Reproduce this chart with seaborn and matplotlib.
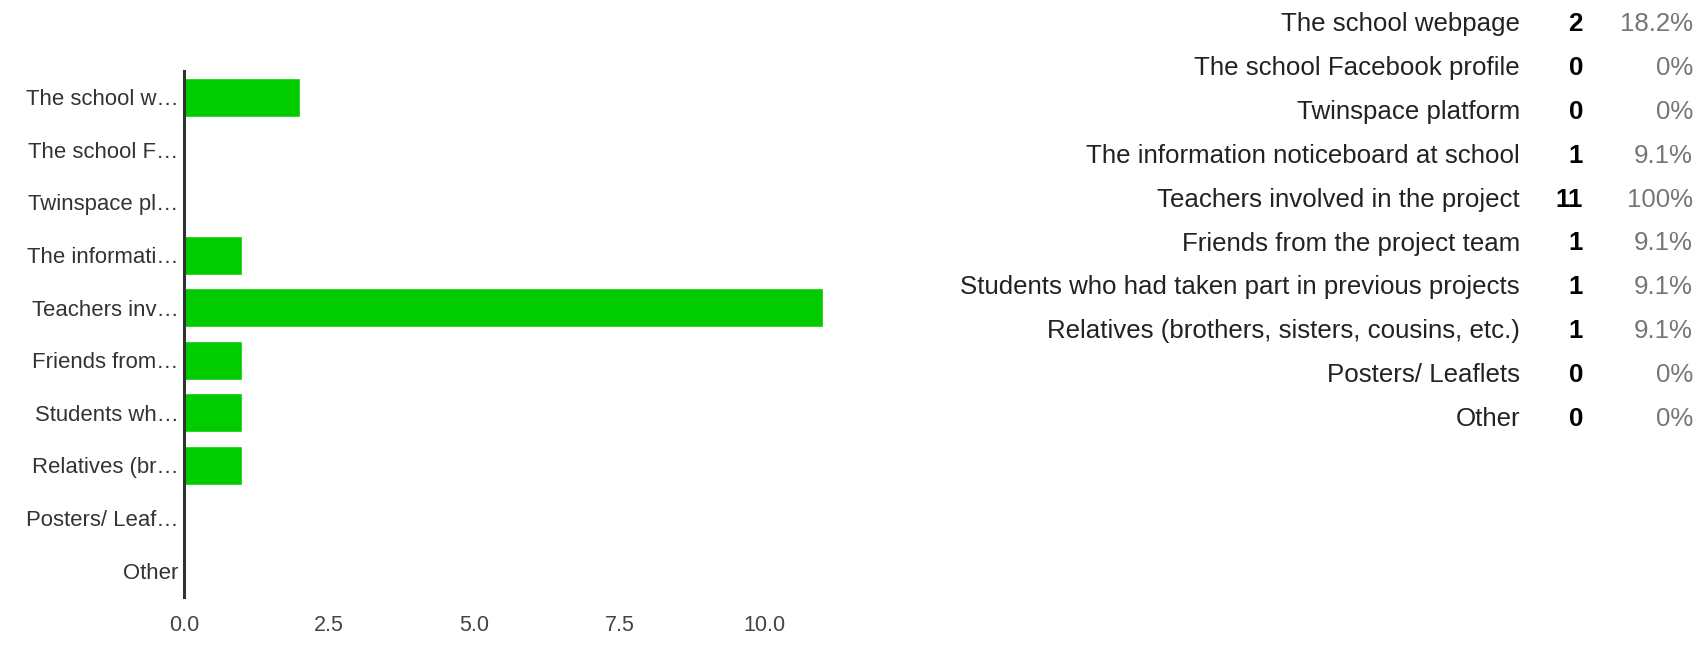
import matplotlib
matplotlib.use("Agg")
import matplotlib.pyplot as plt
import seaborn as sns
import pandas as pd

# data
categories = [
    "The school webpage",
    "The school Facebook profile",
    "Twinspace platform",
    "The information noticeboard at school",
    "Teachers involved in the project",
    "Friends from the project team",
    "Students who had taken part in previous projects",
    "Relatives (brothers, sisters, cousins, etc.)",
    "Posters/ Leaflets",
    "Other",
]
short_labels = [
    "The school w\u2026", "The school F\u2026", "Twinspace pl\u2026",
    "The informati\u2026", "Teachers inv\u2026", "Friends from\u2026",
    "Students wh\u2026", "Relatives (br\u2026", "Posters/ Leaf\u2026", "Other",
]
counts = [2, 0, 0, 1, 11, 1, 1, 1, 0, 0]
percents = ["18.2%", "0%", "0%", "9.1%", "100%", "9.1%", "9.1%", "9.1%", "0%", "0%"]
xticks = [0, 2.5, 5, 7.5, 10]

df = pd.DataFrame({"cat": categories, "n": counts})

sns.set_style("white")
plt.rcParams["font.family"] = ["Liberation Sans", "DejaVu Sans"]

W, H = 1699, 645
fig = plt.figure(figsize=(W / 100, H / 100), dpi=100)
ax = fig.add_axes([184 / W, 1 - 597 / H, 668 / W, 526 / H])

sns.barplot(data=df, x="n", y="cat", order=categories, color="#00cc00",
            saturation=1, width=0.74, orient="h", ax=ax)

ax.set_xlim(0, 11.5)
ax.set_ylim(9.5, -0.5)
ax.set_xticks(xticks)
ax.set_xticklabels([f"{t:.1f}" for t in xticks], fontsize=15.5, color="#444444")
ax.set_yticks(range(len(categories)))
ax.set_yticklabels(short_labels, fontsize=15.9, color="#333333")
ax.tick_params(axis="x", length=0, pad=13)
ax.tick_params(axis="y", length=0, pad=4)
ax.set_xlabel("")
ax.set_ylabel("")
for s in ["top", "right", "bottom"]:
    ax.spines[s].set_visible(False)
ax.spines["left"].set_color("#333333")
ax.spines["left"].set_linewidth(2.2)

# summary table on the right
for i, (c, n, p) in enumerate(zip(categories, counts, percents)):
    y = 1 - (24 + 43.9 * i) / H
    fig.text(1520 / W, y, c, ha="right", va="center", fontsize=18.6, color="#222222")
    fig.text(1583 / W, y, str(n), ha="right", va="center", fontsize=18.6,
             fontweight="bold", color="#000000")
    fig.text(1693 / W, y, p, ha="right", va="center", fontsize=18.6, color="#757575")

fig.savefig("out.png", dpi=100)
